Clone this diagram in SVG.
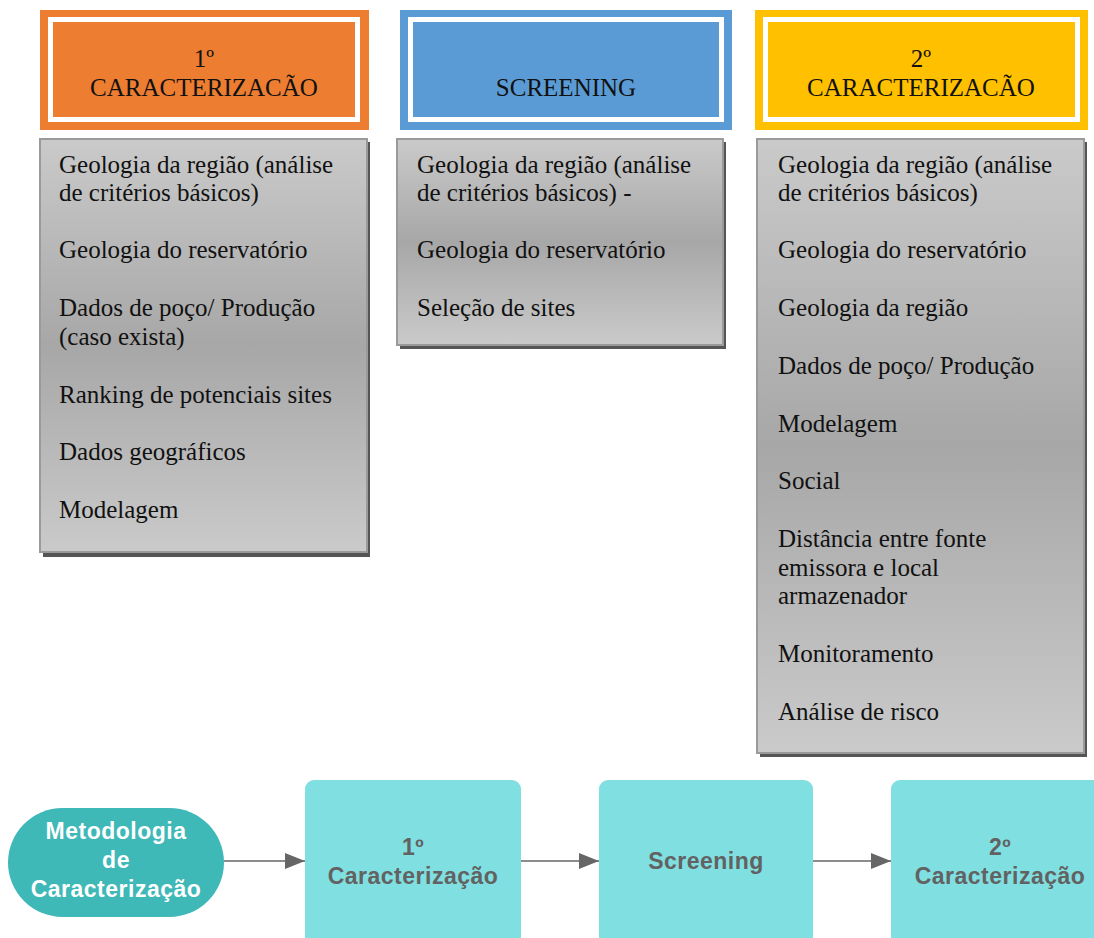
<svg xmlns="http://www.w3.org/2000/svg" width="1094" height="938" viewBox="0 0 1094 938">
<defs>
<linearGradient id="gr" x1="0" y1="0" x2="0" y2="1">
<stop offset="0" stop-color="#cacaca"/>
<stop offset="0.5" stop-color="#a7a7a7"/>
<stop offset="1" stop-color="#cacaca"/>
</linearGradient>
<marker id="ah" markerWidth="20" markerHeight="16" refX="20" refY="8" orient="auto" markerUnits="userSpaceOnUse">
<path d="M0,0 L20,8 L0,16 Z" fill="#666"/>
</marker>
</defs>
<style>
.hd{stroke:#fff;stroke-width:5;}
.ht{font-family:"Liberation Serif","Times New Roman",serif;font-size:25px;fill:#111;text-anchor:middle;}
.sh{fill:#555;}
.bx{fill:url(#gr);stroke:#9a9a9a;stroke-width:2;}
.bt{font-family:"Liberation Serif","Times New Roman",serif;font-size:25px;fill:#111;}
.tl{fill:#80dfe0;}
.tt{font-family:"Liberation Sans",Arial,sans-serif;font-weight:bold;font-size:23px;letter-spacing:0.5px;fill:#626262;text-anchor:middle;}
.pt{font-family:"Liberation Sans",Arial,sans-serif;font-weight:bold;font-size:23px;letter-spacing:0.5px;fill:#fff;text-anchor:middle;}
.cn{stroke:#666;stroke-width:1.5;fill:none;marker-end:url(#ah);}
</style>

<g id="h1">
<rect x="40" y="10" width="329" height="120" fill="#ed7d31"/>
<rect x="50.5" y="19.5" width="307" height="100" fill="none" class="hd"/>
<text class="ht" x="204" y="67">1º</text>
<text class="ht" x="204" y="96">CARACTERIZACÃO</text>
</g>
<g id="h2">
<rect x="400" y="10" width="332" height="120" fill="#5b9bd5"/>
<rect x="410.5" y="19.5" width="311" height="100" fill="none" class="hd"/>
<text class="ht" x="566" y="96">SCREENING</text>
</g>
<g id="h3">
<rect x="755" y="10" width="333" height="120" fill="#ffc000"/>
<rect x="765.5" y="19.5" width="312" height="100" fill="none" class="hd"/>
<text class="ht" x="921" y="67">2º</text>
<text class="ht" x="921" y="96">CARACTERIZACÃO</text>
</g>

<g id="b1">
<rect class="sh" x="43" y="142" width="327" height="415"/>
<rect class="bx" x="40" y="139" width="327" height="413"/>
<text class="bt" x="59" y="173">Geologia da região (análise</text>
<text class="bt" x="59" y="201">de critérios básicos)</text>
<text class="bt" x="59" y="258">Geologia do reservatório</text>
<text class="bt" x="59" y="316">Dados de poço/ Produção</text>
<text class="bt" x="59" y="345">(caso exista)</text>
<text class="bt" x="59" y="403">Ranking de potenciais sites</text>
<text class="bt" x="59" y="460">Dados geográficos</text>
<text class="bt" x="59" y="518">Modelagem</text>
</g>
<g id="b2">
<rect class="sh" x="400" y="142" width="326" height="207"/>
<rect class="bx" x="397" y="139" width="326" height="206"/>
<text class="bt" x="417" y="173">Geologia da região (análise</text>
<text class="bt" x="417" y="201">de critérios básicos) -</text>
<text class="bt" x="417" y="258">Geologia do reservatório</text>
<text class="bt" x="417" y="316">Seleção de sites</text>
</g>
<g id="b3">
<rect class="sh" x="760" y="142" width="327" height="615"/>
<rect class="bx" x="757" y="139" width="327" height="614"/>
<text class="bt" x="778" y="173">Geologia da região (análise</text>
<text class="bt" x="778" y="201">de critérios básicos)</text>
<text class="bt" x="778" y="258">Geologia do reservatório</text>
<text class="bt" x="778" y="316">Geologia da região</text>
<text class="bt" x="778" y="374">Dados de poço/ Produção</text>
<text class="bt" x="778" y="432">Modelagem</text>
<text class="bt" x="778" y="489">Social</text>
<text class="bt" x="778" y="547">Distância entre fonte</text>
<text class="bt" x="778" y="576">emissora e local</text>
<text class="bt" x="778" y="604">armazenador</text>
<text class="bt" x="778" y="662">Monitoramento</text>
<text class="bt" x="778" y="720">Análise de risco</text>
</g>

<g id="connectors">
<line class="cn" x1="224" y1="861" x2="305" y2="861"/>
<line class="cn" x1="521" y1="861" x2="599" y2="861"/>
<line class="cn" x1="813" y1="861" x2="891" y2="861"/>
</g>

<g id="n0">
<rect x="8" y="808" width="216" height="109" rx="54.5" fill="#3fb8b8"/>
<text class="pt" x="116" y="839">Metodologia</text>
<text class="pt" x="116" y="868">de</text>
<text class="pt" x="116" y="897">Caracterização</text>
</g>
<g id="n1">
<rect class="tl" x="305" y="780" width="216" height="165" rx="9"/>
<text class="tt" x="413" y="855">1º</text>
<text class="tt" x="413" y="884">Caracterização</text>
</g>
<g id="n2">
<rect class="tl" x="599" y="780" width="214" height="165" rx="9"/>
<text class="tt" x="706" y="869">Screening</text>
</g>
<g id="n3">
<rect class="tl" x="891" y="780" width="215" height="165" rx="9"/>
<text class="tt" x="1000" y="855">2º</text>
<text class="tt" x="1000" y="884">Caracterização</text>
</g>
</svg>
